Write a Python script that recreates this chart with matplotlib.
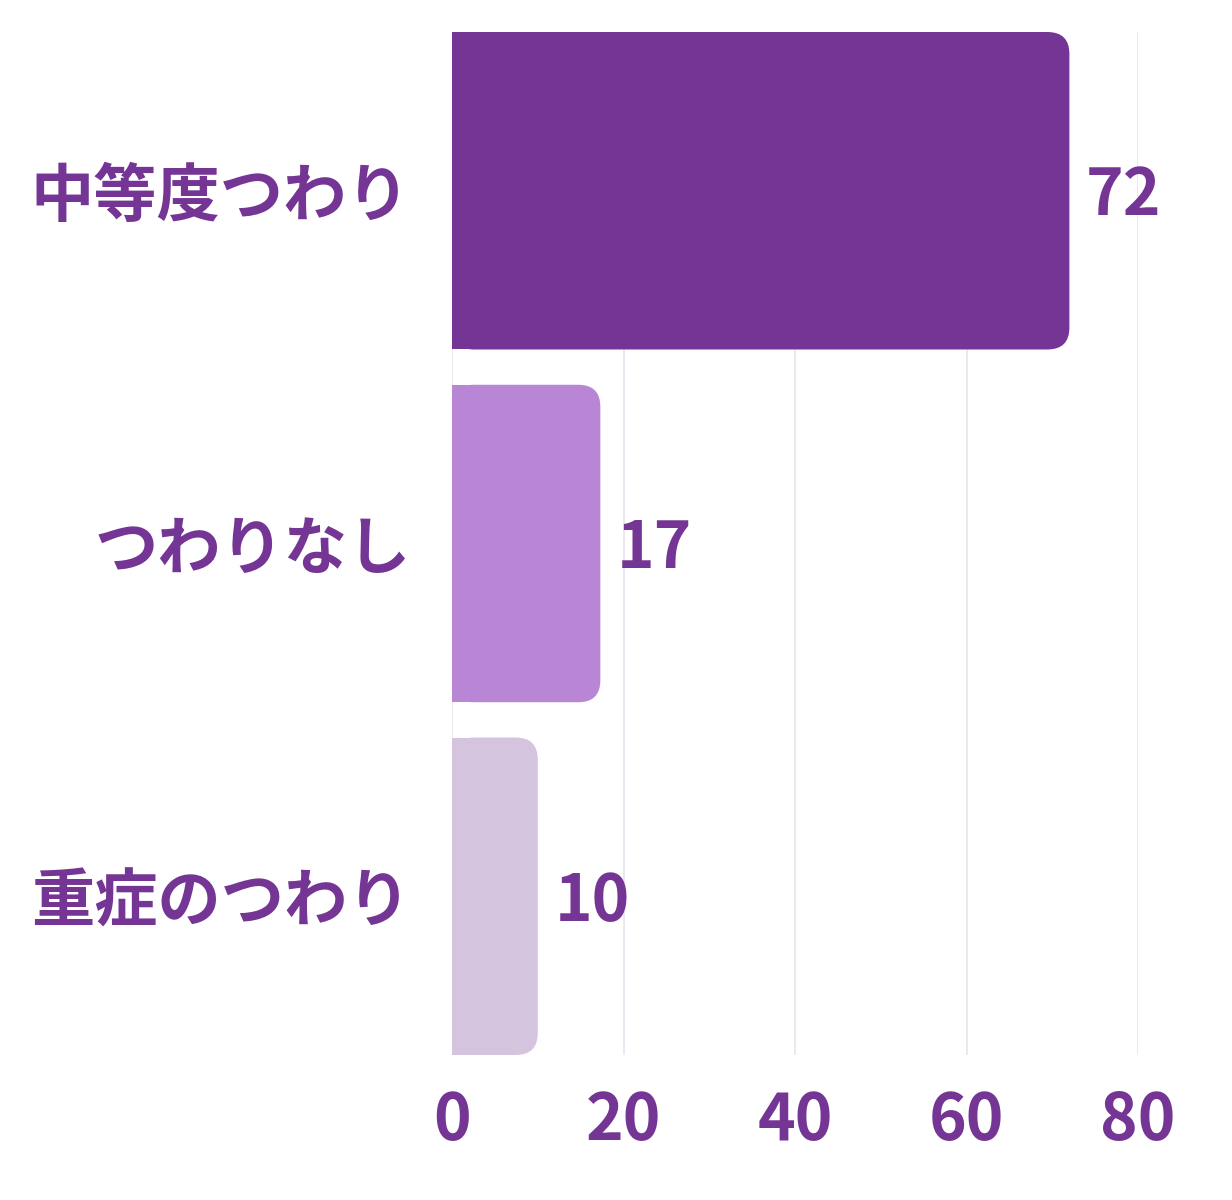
import matplotlib
matplotlib.use("Agg")
import matplotlib.pyplot as plt
from matplotlib.patches import FancyBboxPatch, Rectangle

plt.rcParams['font.family'] = ['Noto Sans CJK JP', 'DejaVu Sans']

# data
categories = ['中等度つわり', 'つわりなし', '重症のつわり']
values = [72, 17.3, 10]
bar_colors = ['#743594', '#b886d4', '#d5c4de']
xticks = [0, 20, 40, 60, 80]

text_color = '#743594'
grid_color = '#e9e3ee'

fig = plt.figure(figsize=(12.32, 12), dpi=100)
ax = fig.add_axes([452 / 1232, 1 - 1055 / 1200, 686 / 1232, 1023 / 1200])

bar_h = 0.9
ax.set_xlim(0, 80)
ax.set_ylim(2.45, -0.45)

# px per data unit, for rounding the corners evenly
px_x = 686 / 80
px_y = 1023 / 2.9
r_px = 22
rx = r_px / px_x
aspect = (r_px / px_y) / rx

for i, (v, c) in enumerate(zip(values, bar_colors)):
    y0 = i - bar_h / 2
    box = FancyBboxPatch((0, y0), v, bar_h,
                         boxstyle=f"round,pad=0,rounding_size={rx}",
                         mutation_aspect=aspect, facecolor=c,
                         edgecolor='none', zorder=3)
    ax.add_patch(box)
    # square off the left side
    ax.add_patch(Rectangle((0, y0), v / 2, bar_h, facecolor=c,
                           edgecolor='none', zorder=3))
    ax.annotate(f"{v:.0f}", (v, i), xytext=(12, -4), textcoords='offset points',
                ha='left', va='center', fontsize=46, fontweight='bold',
                color=text_color)

ax.set_yticks(range(len(categories)))
ax.set_yticklabels(categories)
ax.set_xticks(xticks)
ax.tick_params(axis='y', length=0, pad=30, labelsize=45.5, labelcolor=text_color)
ax.tick_params(axis='x', length=0, pad=24, labelsize=46, labelcolor=text_color)
for lbl in ax.get_xticklabels() + ax.get_yticklabels():
    lbl.set_fontweight('bold')

ax.grid(axis='x', color=grid_color, linewidth=1.2, zorder=0)
ax.set_axisbelow(True)
for s in ax.spines.values():
    s.set_visible(False)

fig.savefig('out.png', dpi=100)
